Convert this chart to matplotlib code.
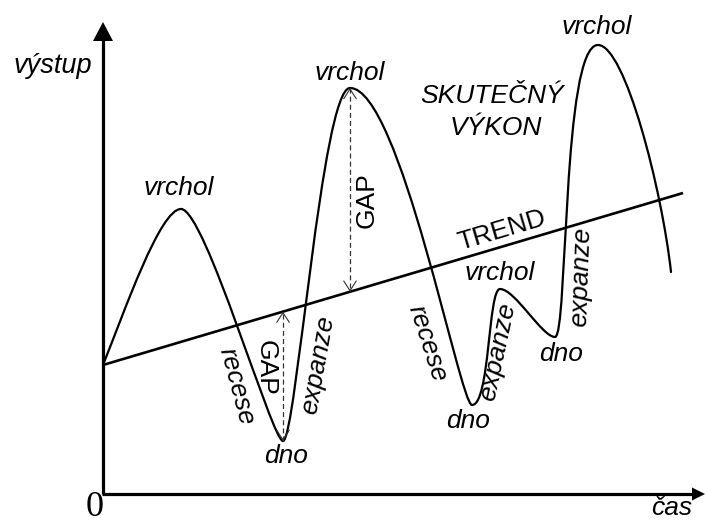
import numpy as np
import matplotlib
matplotlib.use("Agg")
import matplotlib.pyplot as plt
from matplotlib.path import Path
from matplotlib.patches import PathPatch

# ---------------- data (time on x, output on y) ----------------
# business-cycle curve: anchor points (peaks / troughs) and Bezier handles
anchor_x = [0, 78, 180, 247, 369, 397, 452, 495, 568]
anchor_y = [129, 285, 53, 406, 89, 205, 157, 449, 222]
handle_out_x = [22, 102, 193, 297, 387, 412, 465, 522]
handle_out_y = [184, 285, 53, 406, 89, 205, 157, 449]
handle_in_x = [57, 169, 219, 357, 385, 439, 459, 559]
handle_in_y = [285, 53, 406, 89, 205, 157, 449, 304]

# trend line
trend_x = [0, 580]
trend_y = [129, 301]

# output gaps (dashed double arrows between curve and trend)
gap_x = [180, 247]
gap_curve_y = [53, 406]

# axis extents
x_axis_end = 602
y_axis_end = 472

# labels
labels_peak = ["vrchol", "vrchol", "vrchol", "vrchol"]
peak_lx = [76, 247, 397, 494]
peak_ly = [306, 421, 221, 467]
labels_trough = ["dno", "dno", "dno"]
trough_lx = [183, 365, 458]
trough_ly = [38, 73, 140]
phase_labels = ["recese", "expanze", "recese", "expanze", "expanze"]
phase_lx = [134, 215, 324, 395, 478]
phase_ly = [108, 129, 151, 142, 217]
phase_rot = [-75, 80, -72, 78, 88]

# ---------------- figure ----------------
fig = plt.figure(figsize=(7.05, 5.22), dpi=100)
ax = fig.add_axes([0, 0, 1, 1])
ax.set_xlim(-103, 602)
ax.set_ylim(-28, 494)
ax.axis("off")

SANS = "Liberation Sans"
FS = 19

# curve as cubic Bezier path
verts = [(anchor_x[0], anchor_y[0])]
codes = [Path.MOVETO]
for i in range(len(handle_out_x)):
    verts += [(handle_out_x[i], handle_out_y[i]),
              (handle_in_x[i], handle_in_y[i]),
              (anchor_x[i + 1], anchor_y[i + 1])]
    codes += [Path.CURVE4] * 3
ax.add_patch(PathPatch(Path(verts, codes), fill=False, lw=1.6,
                       edgecolor="black", capstyle="round"))

# trend
ax.plot(trend_x, trend_y, color="black", lw=1.9, solid_capstyle="butt")

# axes with filled arrowheads
ax.plot([0, 0], [0, y_axis_end - 18], color="black", lw=2.3, solid_capstyle="butt")
ax.plot([-1, x_axis_end - 12], [0, 0], color="black", lw=2.3, solid_capstyle="butt")
ax.fill([0 - 10, 0 + 10, 0], [y_axis_end - 19, y_axis_end - 19, y_axis_end],
        color="black", lw=0)
ax.fill([x_axis_end - 13, x_axis_end - 13, x_axis_end], [6.5, -6.5, 0],
        color="black", lw=0)

# gap arrows
for gx, gy in zip(gap_x, gap_curve_y):
    ty = float(np.interp(gx, trend_x, trend_y))
    ax.plot([gx, gx], [gy, ty], color="#333333", lw=0.9, ls=(0, (4, 2.5)))
    for end, start in ((ty, gy), (gy, ty)):
        d = 1 if end > start else -1
        ax.annotate("", xy=(gx, end), xytext=(gx, end - d * 2),
                    arrowprops=dict(arrowstyle="->,head_length=0.7,head_width=0.45",
                                    lw=0.8, color="#333333", shrinkA=0, shrinkB=0,
                                    mutation_scale=10))

# texts
it = dict(fontfamily=SANS, fontstyle="italic", fontsize=FS,
          ha="center", va="center", color="black")
up = dict(fontfamily=SANS, fontsize=FS, ha="center", va="center", color="black")

for t, x, y in zip(labels_peak, peak_lx, peak_ly):
    ax.text(x, y, t, **it)
for t, x, y in zip(labels_trough, trough_lx, trough_ly):
    ax.text(x, y, t, **it)
for t, x, y, r in zip(phase_labels, phase_lx, phase_ly, phase_rot):
    ax.text(x, y, t, rotation=r, rotation_mode="anchor", **it)

ax.text(389, 398, "SKUTEČNÝ", **it)
ax.text(393, 366, "VÝKON", **it)
ax.text(399, 264, "TREND", rotation=16.5, rotation_mode="anchor", **up)
ax.text(264, 294, "GAP", rotation=90, rotation_mode="anchor", **up)
ax.text(163, 126, "GAP", rotation=-90, rotation_mode="anchor", **up)

ax.text(-50, 421, "výstup", fontfamily=SANS, fontstyle="italic", fontsize=FS + 0.5,
        ha="center", va="baseline")
ax.text(548, -21, "čas", fontfamily=SANS, fontstyle="italic", fontsize=FS,
        ha="left", va="baseline")
ax.text(-8, -13, "0", fontfamily="Liberation Serif", fontsize=26,
        ha="center", va="center")

fig.savefig("out.png", dpi=100)
